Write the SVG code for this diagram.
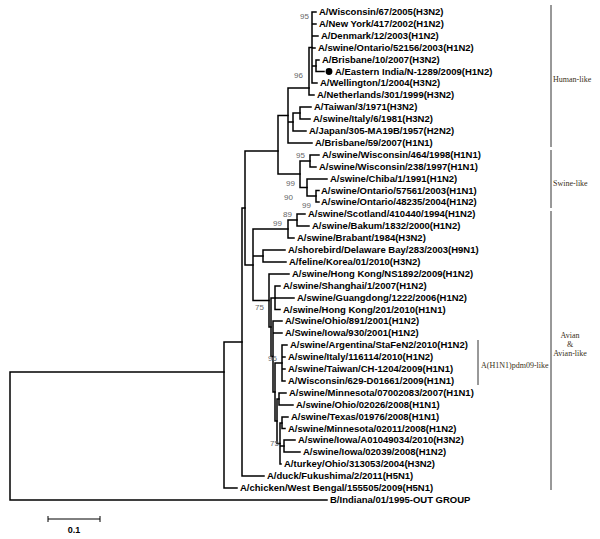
<svg xmlns="http://www.w3.org/2000/svg" width="600" height="539" viewBox="0 0 600 539">
<style>
.t{font-family:"Liberation Sans",Arial,sans-serif;font-size:9.5px;font-weight:bold;fill:#000}
.s{font-family:"Liberation Sans",Arial,sans-serif;font-size:8px;fill:#666}
.e{stroke:#000;stroke-width:1.5;fill:none;stroke-linecap:square}
.br{stroke:#333;stroke-width:1;fill:none}
.c{font-family:"Liberation Serif","Times New Roman",serif;font-size:8px;fill:#3a3020}
</style>
<rect width="600" height="539" fill="#fff"/>
<g id="connectors" class="e">
<path d="M10 372V500M10 372H224M10 500H327"/>
<path d="M224 342V488M224 342H242M224 488H237"/>
<path d="M242 208V476M242 208H245M242 476H264"/>
<path d="M245 151V265M245 151H278M245 265H253"/>
<path d="M278 115.5V174M278 115.5H288M278 174H300"/>
<path d="M288 88V143M288 88H309M288 122H293M288 143H312"/>
<path d="M293 113V131M293 113H300M293 131H306"/>
<path d="M300 107V119M300 107H311M300 119H310"/>
<path d="M309 47.5V95M309 47.5H312M309 95H314"/>
<path d="M312 12V83M312 12H316M312 24H316M312 36H318M312 48H315M312 66H316M312 83H317"/>
<path d="M316 60V71.5M316 60H319M316 71.5H324"/>
<path d="M300 161V187.5M300 161H310M300 187.5H307"/>
<path d="M310 155V167M310 155H319M310 167H316"/>
<path d="M307 179V196M307 179H327M307 196H316"/>
<path d="M316 190.5V202M316 190.5H319M316 202H319"/>
<path d="M253 229V300.5M253 229H288M253 256H263M253 300.5H269"/>
<path d="M288 220V238M288 220H297M288 238H294"/>
<path d="M297 214V226M297 214H305M297 226H309"/>
<path d="M263 250V262M263 250H285M263 262H286"/>
<path d="M269 274V327M269 274H289M269 327H271"/>
<path d="M271 298V356.5M271 298H275M271 356.5H273"/>
<path d="M275 286V309.5M275 286H280M275 298H294M275 309.5H280"/>
<path d="M273 321V392M273 321H282M273 333H282M273 392H275"/>
<path d="M275 363V421M275 363H282M275 421H277"/>
<path d="M282 345V381M282 345H287M282 357H285M282 369H285M282 381H285"/>
<path d="M277 399V443.5M277 399H279M277 443.5H280"/>
<path d="M279 393V405M279 393H286M279 405H293"/>
<path d="M280 423V464M280 423H282M280 446H284M280 464H281"/>
<path d="M282 417V428.5M282 417H288M282 428.5H285"/>
<path d="M284 440V452M284 440H295M284 452H300"/>
</g>
<g id="support" class="s">
<text x="300" y="18.5">95</text>
<text x="294" y="78">96</text>
<text x="296" y="158">95</text>
<text x="286" y="186">99</text>
<text x="284" y="200">90</text>
<text x="302" y="207.5">99</text>
<text x="283" y="217">89</text>
<text x="273" y="226">99</text>
<text x="255" y="310">75</text>
<text x="268" y="361">96</text>
<text x="270" y="446">75</text>
</g>
<g id="leaf-1"><text class="t" x="319" y="15.4">A/Wisconsin/67/2005(H3N2)</text></g>
<g id="leaf-2"><text class="t" x="319" y="27.4">A/New York/417/2002(H1N2)</text></g>
<g id="leaf-3"><text class="t" x="321" y="39.4">A/Denmark/12/2003(H1N2)</text></g>
<g id="leaf-4"><text class="t" x="318" y="51.4">A/swine/Ontario/52156/2003(H1N2)</text></g>
<g id="leaf-5"><text class="t" x="322" y="63.4">A/Brisbane/10/2007(H3N2)</text></g>
<g id="leaf-6"><circle cx="329" cy="71.5" r="3.4" fill="#000"/><text class="t" x="335" y="74.9">A/Eastern India/N-1289/2009(H1N2)</text></g>
<g id="leaf-7"><text class="t" x="320" y="86.4">A/Wellington/1/2004(H3N2)</text></g>
<g id="leaf-8"><text class="t" x="317" y="98.4">A/Netherlands/301/1999(H3N2)</text></g>
<g id="leaf-9"><text class="t" x="314" y="110.4">A/Taiwan/3/1971(H3N2)</text></g>
<g id="leaf-10"><text class="t" x="313" y="122.4">A/swine/Italy/6/1981(H3N2)</text></g>
<g id="leaf-11"><text class="t" x="309" y="134.4">A/Japan/305-MA19B/1957(H2N2)</text></g>
<g id="leaf-12"><text class="t" x="315" y="146.4">A/Brisbane/59/2007(H1N1)</text></g>
<g id="leaf-13"><text class="t" x="322" y="158.4">A/swine/Wisconsin/464/1998(H1N1)</text></g>
<g id="leaf-14"><text class="t" x="319" y="170.4">A/swine/Wisconsin/238/1997(H1N1)</text></g>
<g id="leaf-15"><text class="t" x="330" y="182.4">A/swine/Chiba/1/1991(H1N2)</text></g>
<g id="leaf-16"><text class="t" x="321" y="193.9">A/swine/Ontario/57561/2003(H1N1)</text></g>
<g id="leaf-17"><text class="t" x="321" y="205.4">A/swine/Ontario/48235/2004(H1N2)</text></g>
<g id="leaf-18"><text class="t" x="308" y="217.4">A/swine/Scotland/410440/1994(H1N2)</text></g>
<g id="leaf-19"><text class="t" x="312" y="229.4">A/swine/Bakum/1832/2000(H1N2)</text></g>
<g id="leaf-20"><text class="t" x="297" y="241.4">A/swine/Brabant/1984(H3N2)</text></g>
<g id="leaf-21"><text class="t" x="288" y="253.4">A/shorebird/Delaware Bay/283/2003(H9N1)</text></g>
<g id="leaf-22"><text class="t" x="289" y="265.4">A/feline/Korea/01/2010(H3N2)</text></g>
<g id="leaf-23"><text class="t" x="292" y="277.4">A/swine/Hong Kong/NS1892/2009(H1N2)</text></g>
<g id="leaf-24"><text class="t" x="283" y="289.4">A/swine/Shanghai/1/2007(H1N2)</text></g>
<g id="leaf-25"><text class="t" x="297" y="301.4">A/swine/Guangdong/1222/2006(H1N2)</text></g>
<g id="leaf-26"><text class="t" x="283" y="312.9">A/swine/Hong Kong/201/2010(H1N1)</text></g>
<g id="leaf-27"><text class="t" x="285" y="324.4">A/Swine/Ohio/891/2001(H1N2)</text></g>
<g id="leaf-28"><text class="t" x="285" y="336.4">A/Swine/Iowa/930/2001(H1N2)</text></g>
<g id="leaf-29"><text class="t" x="290" y="348.4">A/swine/Argentina/StaFeN2/2010(H1N2)</text></g>
<g id="leaf-30"><text class="t" x="288" y="360.4">A/swine/Italy/116114/2010(H1N2)</text></g>
<g id="leaf-31"><text class="t" x="288" y="372.4">A/swine/Taiwan/CH-1204/2009(H1N1)</text></g>
<g id="leaf-32"><text class="t" x="288" y="384.4">A/Wisconsin/629-D01661/2009(H1N1)</text></g>
<g id="leaf-33"><text class="t" x="289" y="396.4">A/swine/Minnesota/07002083/2007(H1N1)</text></g>
<g id="leaf-34"><text class="t" x="296" y="408.4">A/swine/Ohio/02026/2008(H1N1)</text></g>
<g id="leaf-35"><text class="t" x="291" y="420.4">A/swine/Texas/01976/2008(H1N1)</text></g>
<g id="leaf-36"><text class="t" x="288" y="431.9">A/swine/Minnesota/02011/2008(H1N2)</text></g>
<g id="leaf-37"><text class="t" x="298" y="443.4">A/swine/Iowa/A01049034/2010(H3N2)</text></g>
<g id="leaf-38"><text class="t" x="303" y="455.4">A/swine/Iowa/02039/2008(H1N2)</text></g>
<g id="leaf-39"><text class="t" x="284" y="467.4">A/turkey/Ohio/313053/2004(H3N2)</text></g>
<g id="leaf-40"><text class="t" x="267" y="479.4">A/duck/Fukushima/2/2011(H5N1)</text></g>
<g id="leaf-41"><text class="t" x="240" y="491.4">A/chicken/West Bengal/155505/2009(H5N1)</text></g>
<g id="leaf-42"><text class="t" x="330" y="503.4">B/Indiana/01/1995-OUT GROUP</text></g>
<g id="clade-human"><path class="br" d="M551 5V147"/><text class="c" x="553" y="82">Human-like</text></g>
<g id="clade-swine"><path class="br" d="M551 150V208"/><text class="c" x="553" y="186">Swine-like</text></g>
<g id="clade-avian"><path class="br" d="M551 211V490"/><text class="c" x="570" y="338" text-anchor="middle">Avian</text><text class="c" x="570" y="347" text-anchor="middle">&amp;</text><text class="c" x="570" y="356" text-anchor="middle">Avian-like</text></g>
<g id="clade-pdm"><path class="br" d="M478 340V385"/><text class="c" x="481" y="368">A(H1N1)pdm09-like</text></g>
<g id="scale"><path class="br" d="M48 519H100M48 516V522M100 516V522" style="stroke:#000"/><text class="t" x="74" y="533" text-anchor="middle" style="font-size:9px">0.1</text></g>
</svg>
